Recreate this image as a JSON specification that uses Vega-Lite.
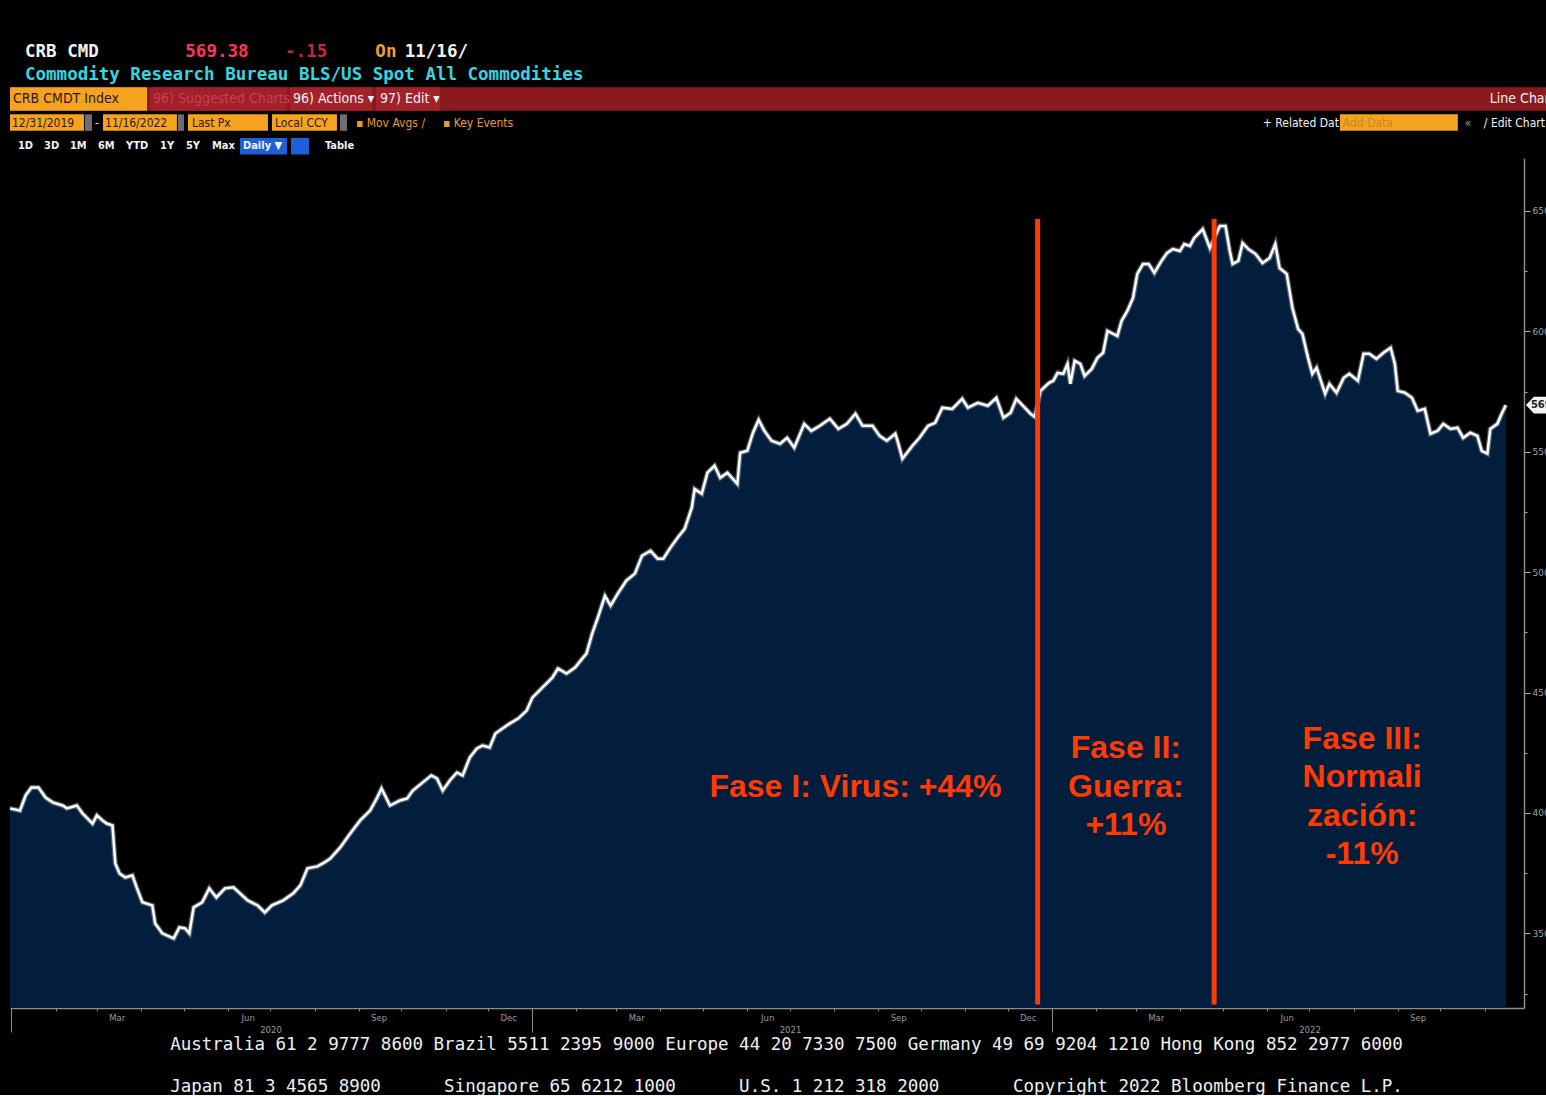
{
  "$schema": "https://vega.github.io/schema/vega-lite/v6.json",
  "background": "#000000",
  "padding": {"left": 0, "top": 40, "right": 0, "bottom": 0},
  "spacing": 0,
  "bounds": "flush",
  "config": {"view": {"stroke": null}, "axis": {"grid": false}},
  "datasets": {
    "crb": [
      {"date": "2019-12-31", "value": 401.9}, {"date": "2020-01-07", "value": 401.0}, {"date": "2020-01-11", "value": 407.3},
      {"date": "2020-01-15", "value": 410.6}, {"date": "2020-01-20", "value": 410.6}, {"date": "2020-01-25", "value": 406.4},
      {"date": "2020-01-30", "value": 404.4}, {"date": "2020-02-06", "value": 403.1}, {"date": "2020-02-09", "value": 401.9},
      {"date": "2020-02-16", "value": 403.1}, {"date": "2020-02-20", "value": 399.8}, {"date": "2020-02-27", "value": 395.6},
      {"date": "2020-03-01", "value": 399.0}, {"date": "2020-03-05", "value": 396.9}, {"date": "2020-03-08", "value": 395.6},
      {"date": "2020-03-12", "value": 394.8}, {"date": "2020-03-14", "value": 379.0}, {"date": "2020-03-17", "value": 374.9},
      {"date": "2020-03-21", "value": 373.2}, {"date": "2020-03-26", "value": 374.1}, {"date": "2020-03-29", "value": 369.1},
      {"date": "2020-04-02", "value": 362.9}, {"date": "2020-04-09", "value": 361.6}, {"date": "2020-04-11", "value": 354.1},
      {"date": "2020-04-16", "value": 350.0}, {"date": "2020-04-24", "value": 347.9}, {"date": "2020-04-28", "value": 352.5},
      {"date": "2020-05-02", "value": 352.1}, {"date": "2020-05-05", "value": 350.0}, {"date": "2020-05-08", "value": 360.8},
      {"date": "2020-05-14", "value": 362.9}, {"date": "2020-05-19", "value": 368.7}, {"date": "2020-05-24", "value": 364.9},
      {"date": "2020-05-30", "value": 368.7}, {"date": "2020-06-05", "value": 369.1}, {"date": "2020-06-15", "value": 363.7},
      {"date": "2020-06-22", "value": 361.6}, {"date": "2020-06-27", "value": 358.7}, {"date": "2020-07-02", "value": 361.6},
      {"date": "2020-07-10", "value": 363.7}, {"date": "2020-07-17", "value": 366.6}, {"date": "2020-07-22", "value": 369.9},
      {"date": "2020-07-27", "value": 377.0}, {"date": "2020-08-03", "value": 377.8}, {"date": "2020-08-08", "value": 379.5},
      {"date": "2020-08-12", "value": 381.1}, {"date": "2020-08-19", "value": 385.7}, {"date": "2020-08-26", "value": 391.5},
      {"date": "2020-09-02", "value": 396.9}, {"date": "2020-09-09", "value": 401.0}, {"date": "2020-09-14", "value": 406.4},
      {"date": "2020-09-17", "value": 410.2}, {"date": "2020-09-23", "value": 403.1}, {"date": "2020-09-30", "value": 405.2},
      {"date": "2020-10-05", "value": 406.0}, {"date": "2020-10-09", "value": 409.3}, {"date": "2020-10-16", "value": 412.7},
      {"date": "2020-10-22", "value": 415.6}, {"date": "2020-10-26", "value": 414.3}, {"date": "2020-10-30", "value": 409.3},
      {"date": "2020-11-04", "value": 413.5}, {"date": "2020-11-09", "value": 416.8}, {"date": "2020-11-13", "value": 415.6},
      {"date": "2020-11-18", "value": 423.0}, {"date": "2020-11-23", "value": 426.8}, {"date": "2020-11-27", "value": 428.0},
      {"date": "2020-12-02", "value": 427.2}, {"date": "2020-12-06", "value": 433.0}, {"date": "2020-12-11", "value": 435.1},
      {"date": "2020-12-16", "value": 437.1}, {"date": "2020-12-22", "value": 439.2}, {"date": "2020-12-28", "value": 442.5},
      {"date": "2021-01-01", "value": 447.9}, {"date": "2021-01-08", "value": 452.1}, {"date": "2021-01-15", "value": 456.2},
      {"date": "2021-01-19", "value": 460.0}, {"date": "2021-01-25", "value": 457.9}, {"date": "2021-01-31", "value": 460.4},
      {"date": "2021-02-05", "value": 464.1}, {"date": "2021-02-08", "value": 466.2}, {"date": "2021-02-12", "value": 474.5},
      {"date": "2021-02-16", "value": 481.1}, {"date": "2021-02-21", "value": 490.2}, {"date": "2021-02-25", "value": 486.1},
      {"date": "2021-03-02", "value": 491.1}, {"date": "2021-03-08", "value": 496.5}, {"date": "2021-03-14", "value": 499.4},
      {"date": "2021-03-19", "value": 506.8}, {"date": "2021-03-25", "value": 508.9}, {"date": "2021-03-30", "value": 505.6},
      {"date": "2021-04-03", "value": 505.6}, {"date": "2021-04-08", "value": 510.2}, {"date": "2021-04-13", "value": 514.3},
      {"date": "2021-04-18", "value": 518.0}, {"date": "2021-04-23", "value": 526.8}, {"date": "2021-04-25", "value": 534.6},
      {"date": "2021-04-30", "value": 532.6}, {"date": "2021-05-04", "value": 541.3}, {"date": "2021-05-09", "value": 544.2},
      {"date": "2021-05-13", "value": 539.2}, {"date": "2021-05-18", "value": 541.3}, {"date": "2021-05-25", "value": 536.7},
      {"date": "2021-05-27", "value": 549.6}, {"date": "2021-06-01", "value": 550.4}, {"date": "2021-06-05", "value": 557.9},
      {"date": "2021-06-09", "value": 563.3}, {"date": "2021-06-13", "value": 558.7}, {"date": "2021-06-18", "value": 554.6},
      {"date": "2021-06-24", "value": 553.3}, {"date": "2021-06-29", "value": 555.8}, {"date": "2021-07-04", "value": 551.7},
      {"date": "2021-07-11", "value": 561.6}, {"date": "2021-07-16", "value": 558.7}, {"date": "2021-07-22", "value": 560.8},
      {"date": "2021-07-29", "value": 563.7}, {"date": "2021-08-04", "value": 559.5}, {"date": "2021-08-10", "value": 561.6},
      {"date": "2021-08-16", "value": 565.8}, {"date": "2021-08-21", "value": 560.8}, {"date": "2021-08-28", "value": 560.8},
      {"date": "2021-09-02", "value": 556.6}, {"date": "2021-09-07", "value": 554.6}, {"date": "2021-09-13", "value": 557.5},
      {"date": "2021-09-15", "value": 553.7}, {"date": "2021-09-18", "value": 547.1}, {"date": "2021-09-25", "value": 552.5},
      {"date": "2021-09-30", "value": 555.8}, {"date": "2021-10-06", "value": 560.8}, {"date": "2021-10-11", "value": 562.0},
      {"date": "2021-10-16", "value": 568.3}, {"date": "2021-10-23", "value": 567.8}, {"date": "2021-10-30", "value": 572.0},
      {"date": "2021-11-03", "value": 568.3}, {"date": "2021-11-10", "value": 570.3}, {"date": "2021-11-17", "value": 569.1},
      {"date": "2021-11-23", "value": 572.4}, {"date": "2021-11-28", "value": 564.1}, {"date": "2021-12-03", "value": 566.2},
      {"date": "2021-12-07", "value": 572.0}, {"date": "2021-12-13", "value": 568.3}, {"date": "2021-12-17", "value": 565.8},
      {"date": "2021-12-20", "value": 564.5}, {"date": "2021-12-24", "value": 575.3}, {"date": "2021-12-30", "value": 578.6},
      {"date": "2022-01-02", "value": 579.5}, {"date": "2022-01-05", "value": 582.8}, {"date": "2022-01-09", "value": 582.4},
      {"date": "2022-01-12", "value": 586.5}, {"date": "2022-01-14", "value": 578.2}, {"date": "2022-01-17", "value": 587.8},
      {"date": "2022-01-21", "value": 586.5}, {"date": "2022-01-24", "value": 581.5}, {"date": "2022-01-29", "value": 584.4},
      {"date": "2022-02-02", "value": 589.0}, {"date": "2022-02-06", "value": 591.1}, {"date": "2022-02-09", "value": 600.2},
      {"date": "2022-02-16", "value": 598.1}, {"date": "2022-02-19", "value": 604.4}, {"date": "2022-02-23", "value": 608.5},
      {"date": "2022-02-27", "value": 613.9}, {"date": "2022-03-02", "value": 623.9}, {"date": "2022-03-06", "value": 628.0},
      {"date": "2022-03-10", "value": 628.0}, {"date": "2022-03-14", "value": 624.3}, {"date": "2022-03-19", "value": 629.3},
      {"date": "2022-03-23", "value": 632.6}, {"date": "2022-03-27", "value": 634.2}, {"date": "2022-04-01", "value": 633.4},
      {"date": "2022-04-04", "value": 636.3}, {"date": "2022-04-08", "value": 635.5}, {"date": "2022-04-11", "value": 638.8},
      {"date": "2022-04-17", "value": 642.5}, {"date": "2022-04-22", "value": 634.6}, {"date": "2022-04-29", "value": 643.8},
      {"date": "2022-05-03", "value": 643.8}, {"date": "2022-05-06", "value": 633.4}, {"date": "2022-05-08", "value": 628.0},
      {"date": "2022-05-12", "value": 629.3}, {"date": "2022-05-15", "value": 636.7}, {"date": "2022-05-19", "value": 634.2},
      {"date": "2022-05-24", "value": 632.2}, {"date": "2022-05-29", "value": 628.4}, {"date": "2022-06-03", "value": 630.5},
      {"date": "2022-06-07", "value": 636.3}, {"date": "2022-06-10", "value": 626.3}, {"date": "2022-06-15", "value": 623.9},
      {"date": "2022-06-19", "value": 609.8}, {"date": "2022-06-23", "value": 601.0}, {"date": "2022-06-26", "value": 599.0},
      {"date": "2022-06-30", "value": 589.0}, {"date": "2022-07-03", "value": 582.4}, {"date": "2022-07-06", "value": 584.9},
      {"date": "2022-07-12", "value": 574.1}, {"date": "2022-07-15", "value": 578.2}, {"date": "2022-07-20", "value": 574.5},
      {"date": "2022-07-25", "value": 580.7}, {"date": "2022-07-29", "value": 582.4}, {"date": "2022-08-04", "value": 579.5},
      {"date": "2022-08-08", "value": 590.7}, {"date": "2022-08-12", "value": 590.7}, {"date": "2022-08-17", "value": 588.6},
      {"date": "2022-08-22", "value": 591.1}, {"date": "2022-08-27", "value": 593.2}, {"date": "2022-08-30", "value": 586.5},
      {"date": "2022-09-01", "value": 575.3}, {"date": "2022-09-06", "value": 574.5}, {"date": "2022-09-11", "value": 572.4},
      {"date": "2022-09-15", "value": 567.0}, {"date": "2022-09-20", "value": 567.8}, {"date": "2022-09-24", "value": 557.5},
      {"date": "2022-09-29", "value": 558.7}, {"date": "2022-10-03", "value": 561.6}, {"date": "2022-10-08", "value": 559.5},
      {"date": "2022-10-13", "value": 560.0}, {"date": "2022-10-17", "value": 555.8}, {"date": "2022-10-22", "value": 557.9},
      {"date": "2022-10-27", "value": 556.6}, {"date": "2022-10-30", "value": 550.4}, {"date": "2022-11-03", "value": 549.2},
      {"date": "2022-11-05", "value": 559.5}, {"date": "2022-11-10", "value": 561.6}, {"date": "2022-11-13", "value": 565.8},
      {"date": "2022-11-16", "value": 569.38}
    ],
    "last": [{"date": "2022-11-16", "value": 569.38, "label": "569.38"}],
    "phases": [{"date": "2021-12-22"}, {"date": "2022-04-25"}],
    "notes": [
      {"date": "2021-08-16", "value": 410.6, "label": "Fase I: Virus: +44%"},
      {"date": "2022-02-22", "value": 426.8, "label": "Fase II:\nGuerra:\n\u00a0+11%"},
      {"date": "2022-08-07", "value": 430.9, "label": "Fase III:\nNormali\nzación:\n-11%"}
    ],
    "boxes": [
      {"row": "r3", "start": 0, "end": 146.3, "kind": "bar"},
      {"row": "r3", "start": 0, "end": 13.05, "kind": "box"},
      {"row": "r3", "start": 13.33, "end": 26.38, "kind": "dimbox"},
      {"row": "r3", "start": 26.67, "end": 34.48, "kind": "btn"},
      {"row": "r3", "start": 34.86, "end": 40.95, "kind": "btn"},
      {"row": "r4", "start": 0, "end": 7.05, "kind": "box"},
      {"row": "r4", "start": 7.14, "end": 7.81, "kind": "knob"},
      {"row": "r4", "start": 8.86, "end": 15.9, "kind": "box"},
      {"row": "r4", "start": 16.0, "end": 16.57, "kind": "knob"},
      {"row": "r4", "start": 16.95, "end": 24.57, "kind": "box"},
      {"row": "r4", "start": 24.95, "end": 31.14, "kind": "box"},
      {"row": "r4", "start": 31.43, "end": 32.1, "kind": "knob"},
      {"row": "r4", "start": 126.67, "end": 137.9, "kind": "box"},
      {"row": "r5", "start": 21.9, "end": 26.38, "kind": "blue"},
      {"row": "r5", "start": 26.76, "end": 28.48, "kind": "blue"}
    ],
    "hdrText": [
      {"row": "r1", "start": 1.43, "label": "CRB CMD", "kind": "white"},
      {"row": "r1", "start": 16.7, "label": "569.38", "kind": "price"},
      {"row": "r1", "start": 26.2, "label": "-.15", "kind": "change"},
      {"row": "r1", "start": 34.8, "label": "On", "kind": "on"},
      {"row": "r1", "start": 37.6, "label": "11/16/", "kind": "white"},
      {"row": "r2", "start": 1.43, "label": "Commodity Research Bureau BLS/US Spot All Commodities", "kind": "cyan"}
    ],
    "toolText": [
      {"row": "r3", "start": 0.29, "label": "CRB CMDT Index", "kind": "dark"},
      {"row": "r3", "start": 13.62, "label": "96) Suggested Charts", "kind": "dimtext"},
      {"row": "r3", "start": 26.95, "label": "96) Actions ▾", "kind": "white"},
      {"row": "r3", "start": 35.24, "label": "97) Edit ▾", "kind": "white"},
      {"row": "r3", "start": 140.95, "label": "Line Chart", "kind": "white"},
      {"row": "r4", "start": 0.19, "label": "12/31/2019", "kind": "dark"},
      {"row": "r4", "start": 8.1, "label": "-", "kind": "white"},
      {"row": "r4", "start": 9.05, "label": "11/16/2022", "kind": "dark"},
      {"row": "r4", "start": 17.33, "label": "Last Px", "kind": "dark"},
      {"row": "r4", "start": 25.24, "label": "Local CCY", "kind": "dark"},
      {"row": "r4", "start": 32.95, "label": "▪ Mov Avgs /", "kind": "amber"},
      {"row": "r4", "start": 41.24, "label": "▪ Key Events", "kind": "amber"},
      {"row": "r4", "start": 119.33, "label": "+ Related Dat", "kind": "white"},
      {"row": "r4", "start": 126.95, "label": "Add Data", "kind": "addtext"},
      {"row": "r4", "start": 138.57, "label": "«", "kind": "gray"},
      {"row": "r4", "start": 140.38, "label": "/ Edit Chart", "kind": "white"},
      {"row": "r5", "start": 0.76, "label": "1D", "kind": "white"},
      {"row": "r5", "start": 3.24, "label": "3D", "kind": "white"},
      {"row": "r5", "start": 5.71, "label": "1M", "kind": "white"},
      {"row": "r5", "start": 8.38, "label": "6M", "kind": "white"},
      {"row": "r5", "start": 11.05, "label": "YTD", "kind": "white"},
      {"row": "r5", "start": 14.29, "label": "1Y", "kind": "white"},
      {"row": "r5", "start": 16.76, "label": "5Y", "kind": "white"},
      {"row": "r5", "start": 19.24, "label": "Max", "kind": "white"},
      {"row": "r5", "start": 22.19, "label": "Daily ▼", "kind": "white"},
      {"row": "r5", "start": 30.0, "label": "Table", "kind": "white"}
    ]
  },
  "vconcat": [
    {
      "width": 1536,
      "height": 118,
      "encoding": {
        "x": {"field": "start", "type": "quantitative", "scale": {"domain": [0, 146.3], "nice": false, "zero": false}, "axis": null},
        "y": {"field": "row", "type": "nominal", "scale": {"type": "band", "domain": ["r1", "r2", "r3", "r4", "r5"], "paddingInner": 0, "paddingOuter": 0}, "axis": null},
        "color": {"field": "kind", "type": "nominal", "legend": null, "scale": {
          "domain": ["bar", "box", "dimbox", "btn", "knob", "blue", "white", "price", "change", "on", "cyan", "dark", "dimtext", "amber", "gray", "addtext"],
          "range": ["#8B1A1E", "#F5A31F", "#A21F2C", "#A3222A", "#6E6E6E", "#1F5FD6", "#F2F2F2", "#FF3555", "#C8283C", "#F2A22C", "#35D6E0", "#2A1A05", "#C8404E", "#E89A2A", "#9A9A9A", "#C7862A"]}}
      },
      "layer": [
        {"data": {"name": "boxes"}, "transform": [{"filter": "datum.row == 'r3'"}], "mark": {"type": "rect"}, "encoding": {"x2": {"field": "end"}}},
        {"data": {"name": "boxes"}, "transform": [{"filter": "datum.row != 'r3'"}], "mark": {"type": "rect", "height": {"band": 0.7}}, "encoding": {"x2": {"field": "end"}}},
        {"data": {"name": "hdrText"}, "mark": {"type": "text", "align": "left", "baseline": "middle", "font": "DejaVu Sans Mono", "fontSize": 17.5, "fontWeight": "bold"}, "encoding": {"text": {"field": "label"}}},
        {"data": {"name": "toolText"}, "transform": [{"filter": "datum.row == 'r3'"}], "mark": {"type": "text", "align": "left", "baseline": "middle", "font": "DejaVu Sans Condensed, Liberation Sans Narrow, Roboto, sans-serif", "fontSize": 14}, "encoding": {"text": {"field": "label"}}},
        {"data": {"name": "toolText"}, "transform": [{"filter": "datum.row == 'r4'"}], "mark": {"type": "text", "align": "left", "baseline": "middle", "font": "DejaVu Sans Condensed, Liberation Sans Narrow, Roboto, sans-serif", "fontSize": 12}, "encoding": {"text": {"field": "label"}}},
        {"data": {"name": "toolText"}, "transform": [{"filter": "datum.row == 'r5'"}], "mark": {"type": "text", "align": "left", "baseline": "middle", "font": "DejaVu Sans Condensed, Liberation Sans Narrow, Roboto, sans-serif", "fontSize": 11, "fontWeight": "bold"}, "encoding": {"text": {"field": "label"}}}
      ]
    },
    {
      "width": 1514,
      "height": 850,
      "encoding": {
        "x": {"field": "date", "type": "temporal",
          "scale": {"type": "utc", "nice": false, "domain": [{"year": 2019, "month": 12, "date": 31, "utc": true}, {"year": 2022, "month": 11, "date": 28, "hours": 17, "utc": true}]},
          "axis": {
            "orient": "bottom",
            "values": [
              {"year": 2020, "month": 1, "date": 1, "utc": true}, {"year": 2020, "month": 2, "date": 1, "utc": true}, {"year": 2020, "month": 3, "date": 1, "utc": true},
              {"year": 2020, "month": 3, "date": 15, "utc": true}, {"year": 2020, "month": 4, "date": 1, "utc": true}, {"year": 2020, "month": 5, "date": 1, "utc": true},
              {"year": 2020, "month": 6, "date": 1, "utc": true}, {"year": 2020, "month": 6, "date": 15, "utc": true}, {"year": 2020, "month": 7, "date": 1, "utc": true},
              {"year": 2020, "month": 8, "date": 1, "utc": true}, {"year": 2020, "month": 9, "date": 1, "utc": true}, {"year": 2020, "month": 9, "date": 15, "utc": true},
              {"year": 2020, "month": 10, "date": 1, "utc": true}, {"year": 2020, "month": 11, "date": 1, "utc": true}, {"year": 2020, "month": 12, "date": 1, "utc": true},
              {"year": 2020, "month": 12, "date": 15, "utc": true},
              {"year": 2021, "month": 1, "date": 1, "utc": true}, {"year": 2021, "month": 2, "date": 1, "utc": true}, {"year": 2021, "month": 3, "date": 1, "utc": true},
              {"year": 2021, "month": 3, "date": 15, "utc": true}, {"year": 2021, "month": 4, "date": 1, "utc": true}, {"year": 2021, "month": 5, "date": 1, "utc": true},
              {"year": 2021, "month": 6, "date": 1, "utc": true}, {"year": 2021, "month": 6, "date": 15, "utc": true}, {"year": 2021, "month": 7, "date": 1, "utc": true},
              {"year": 2021, "month": 8, "date": 1, "utc": true}, {"year": 2021, "month": 9, "date": 1, "utc": true}, {"year": 2021, "month": 9, "date": 15, "utc": true},
              {"year": 2021, "month": 10, "date": 1, "utc": true}, {"year": 2021, "month": 11, "date": 1, "utc": true}, {"year": 2021, "month": 12, "date": 1, "utc": true},
              {"year": 2021, "month": 12, "date": 15, "utc": true},
              {"year": 2022, "month": 1, "date": 1, "utc": true}, {"year": 2022, "month": 2, "date": 1, "utc": true}, {"year": 2022, "month": 3, "date": 1, "utc": true},
              {"year": 2022, "month": 3, "date": 15, "utc": true}, {"year": 2022, "month": 4, "date": 1, "utc": true}, {"year": 2022, "month": 5, "date": 1, "utc": true},
              {"year": 2022, "month": 6, "date": 1, "utc": true}, {"year": 2022, "month": 6, "date": 15, "utc": true}, {"year": 2022, "month": 7, "date": 1, "utc": true},
              {"year": 2022, "month": 8, "date": 1, "utc": true}, {"year": 2022, "month": 9, "date": 1, "utc": true}, {"year": 2022, "month": 9, "date": 15, "utc": true},
              {"year": 2022, "month": 10, "date": 1, "utc": true}, {"year": 2022, "month": 11, "date": 1, "utc": true}
            ],
            "labelExpr": "utcdate(datum.value) == 15 ? ['Jan','Feb','Mar','Apr','May','Jun','Jul','Aug','Sep','Oct','Nov','Dec'][utcmonth(datum.value)] : (utcmonth(datum.value) == 6 && utcdate(datum.value) == 1 ? ['', '' + utcyear(datum.value)] : '')",
            "labelFont": "DejaVu Sans",
            "labelFontSize": 8.5,
            "labelColor": "#9A9A9A",
            "labelLineHeight": 12,
            "labelOverlap": false,
            "labelFlush": false,
            "labelPadding": 2,
            "tickColor": "#8C8C8C",
            "tickSize": {"condition": {"test": "utcmonth(datum.value) == 0 && utcdate(datum.value) == 1", "value": 24}, "value": 3},
            "tickOpacity": {"condition": {"test": "utcdate(datum.value) == 15", "value": 0}, "value": 1},
            "domainColor": "#8C8C8C",
            "domainWidth": 1.5,
            "title": [
              "Australia 61 2 9777 8600 Brazil 5511 2395 9000 Europe 44 20 7330 7500 Germany 49 69 9204 1210 Hong Kong 852 2977 6000",
              "Japan 81 3 4565 8900\u00a0\u00a0\u00a0\u00a0\u00a0\u00a0Singapore 65 6212 1000\u00a0\u00a0\u00a0\u00a0\u00a0\u00a0U.S. 1 212 318 2000\u00a0\u00a0\u00a0\u00a0\u00a0\u00a0\u00a0Copyright 2022 Bloomberg Finance L.P."
            ],
            "titleFont": "DejaVu Sans Mono",
            "titleFontSize": 17.5,
            "titleFontWeight": "normal",
            "titleColor": "#F0F0F0",
            "titleLineHeight": 42,
            "titleAlign": "center",
            "titleBaseline": "top",
            "titleX": 776,
            "titleY": 27
          }
        }
      },
      "layer": [
        {
          "data": {"name": "crb"},
          "mark": {"type": "area", "color": "#021E3C"},
          "encoding": {
            "y": {"field": "value", "type": "quantitative",
              "scale": {"domain": [319, 672], "nice": false, "zero": false},
              "axis": {
                "orient": "right",
                "values": [325, 350, 375, 400, 425, 450, 475, 500, 525, 550, 575, 600, 625, 650],
                "labelExpr": "datum.value % 50 == 0 ? datum.label : ''",
                "tickSize": {"condition": {"test": "datum.value % 50 == 0", "value": 6}, "value": 3},
                "tickColor": "#B0B0B0",
                "domainColor": "#8C8C8C",
                "domainWidth": 1.5,
                "labelColor": "#A0A0A0",
                "labelFont": "DejaVu Sans",
                "labelFontSize": 9,
                "labelPadding": 2,
                "title": null
              }
            },
            "y2": {"datum": 319}
          }
        },
        {
          "data": {"name": "crb"},
          "mark": {"type": "line", "color": "#A0A8B8", "strokeWidth": 5, "opacity": 0.5},
          "encoding": {"y": {"field": "value", "type": "quantitative"}}
        },
        {
          "data": {"name": "crb"},
          "mark": {"type": "line", "color": "#FFFFFF", "strokeWidth": 2.5},
          "encoding": {"y": {"field": "value", "type": "quantitative"}}
        },
        {
          "data": {"name": "phases"},
          "mark": {"type": "rule", "color": "#FF3A05", "strokeWidth": 5},
          "encoding": {"y": {"datum": 646.7}, "y2": {"datum": 320.5}}
        },
        {
          "data": {"name": "notes"},
          "mark": {"type": "text", "font": "Liberation Sans", "fontWeight": "bold", "fontSize": 32, "color": "#FF3A05", "align": "center", "baseline": "middle", "lineBreak": "\n", "lineHeight": 38.5},
          "encoding": {"y": {"field": "value", "type": "quantitative"}, "text": {"field": "label"}}
        },
        {
          "data": {"name": "last"},
          "mark": {"type": "point", "filled": true, "color": "#F2F2F2", "opacity": 1, "size": 1600, "xOffset": 40, "clip": false,
            "shape": "M-1,0 L-0.6,-0.42 L1,-0.42 L1,0.42 L-0.6,0.42 Z"},
          "encoding": {"y": {"field": "value", "type": "quantitative"}}
        },
        {
          "data": {"name": "last"},
          "mark": {"type": "text", "align": "left", "baseline": "middle", "xOffset": 25, "font": "DejaVu Sans", "fontSize": 10, "fontWeight": "bold", "color": "#202020"},
          "encoding": {"y": {"field": "value", "type": "quantitative"}, "text": {"field": "label"}}
        }
      ]
    }
  ]
}
